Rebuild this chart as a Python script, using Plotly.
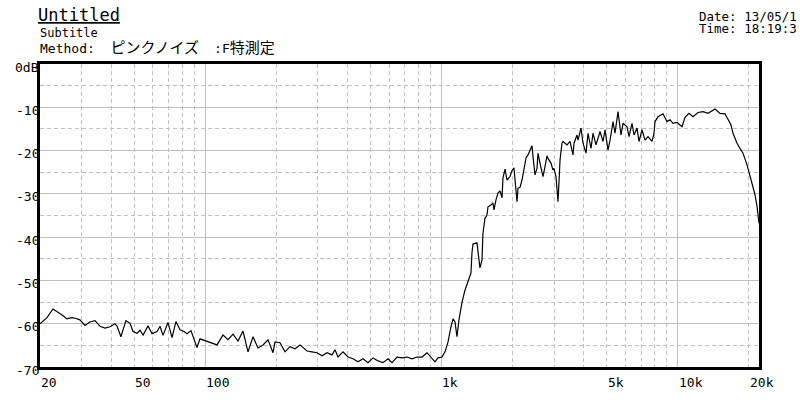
import math
import plotly.graph_objects as go

# ---------------- data ----------------
freq_hz = [
    20.0, 20.79, 21.41, 22.7, 23.6, 24.8, 26.0, 27.3, 28.41, 29.5, 31.0, 32.5, 34.2, 35.9,
    37.7, 39.6, 41.5, 42.4, 44.0, 46.2, 48.1, 49.5, 51.5, 53.0, 54.6, 57.3, 59.6, 62.55,
    64.4, 66.3, 69.6, 72.4, 75.2, 78.3, 81.4, 83.8, 87.1, 89.7, 92.3, 95.1,
    106.9, 112.2, 119.0, 124.9, 131.2, 137.7, 144.6, 151.8, 159.4, 167.3, 175.7, 184.5,
    193.6, 197.5, 207.4, 217.7, 228.6, 240.0, 252.0, 269.7, 283.2, 297.3, 312.2, 327.8,
    344.1, 354.3, 364.8, 383.1, 402.2, 422.3, 443.4, 465.6, 488.9, 513.2, 538.9, 565.7,
    594.0, 617.6, 648.5, 680.8, 714.8, 750.6, 788.0, 827.4, 868.6, 912.0, 939.0, 966.7,
    1005, 1035, 1066, 1097, 1119, 1141, 1163, 1186, 1222, 1258, 1283, 1308, 1333, 1346,
    1359, 1413, 1427, 1455, 1484, 1498, 1528, 1558, 1573, 1620, 1652, 1668, 1701, 1735,
    1769, 1804, 1821, 1857, 1894, 1950, 1989, 2027, 2048, 2088, 2108, 2150, 2192, 2235,
    2279, 2324, 2393, 2416, 2440, 2488, 2537, 2561, 2612, 2663, 2689, 2742, 2796, 2823,
    2907, 2964, 2993, 3052, 3082, 3112, 3142, 3174, 3236, 3268, 3398, 3499, 3603, 3638,
    3746, 3783, 3895, 3972, 4089, 4170, 4294, 4378, 4508, 4597, 4688, 4827, 4921, 5067,
    5168, 5321, 5425, 5585, 5751, 5865, 6097, 6218, 6402, 6527, 6721, 6854, 7057, 7266,
    7482, 7779, 7933, 8010, 8248, 8659, 9003, 9270, 9546, 9925, 10421, 10730, 11156,
    11599, 12177, 12787, 13426, 14374, 15093, 15845, 16312, 16796, 17128, 17809, 18337,
    18880, 19634, 20214, 20814, 21226, 21647, 21857, 22070,
]
level_db = [
    -60.0, -59.2, -58.6, -56.6, -57.2, -58.0, -58.9, -58.6, -58.8, -59.1, -60.4, -59.6, -59.3, -60.6,
    -61.0, -60.7, -60.0, -60.6, -63.0, -59.3, -59.9, -61.8, -62.2, -61.5, -62.6, -60.5, -62.3, -61.8,
    -60.6, -62.7, -59.7, -63.2, -59.5, -61.4, -61.8, -62.3, -61.6, -63.5, -65.5, -63.5,
    -64.4, -64.9, -62.6, -63.7, -62.4, -64.0, -61.7, -66.5, -63.0, -65.6, -64.9, -63.7,
    -66.7, -64.2, -64.4, -66.5, -65.3, -65.8, -64.9, -66.3, -66.5, -66.7, -67.4, -66.7,
    -67.2, -66.0, -67.7, -66.5, -67.7, -68.1, -68.8, -68.1, -69.0, -67.9, -68.6, -69.0,
    -68.1, -69.0, -67.7, -67.9, -67.7, -68.1, -67.7, -67.7, -66.7, -67.9, -68.8, -67.9,
    -67.7, -66.5, -64.2, -60.7, -58.9, -59.6, -63.0, -59.1, -55.0, -52.2, -51.0, -49.9, -48.3, -43.6,
    -41.6, -41.3, -43.3, -47.1, -45.3, -39.1, -35.6, -34.9, -33.0, -32.6, -32.1, -33.7, -31.4, -29.8,
    -29.3, -30.9, -26.3, -24.3, -26.8, -26.0, -24.6, -24.0, -26.8, -31.8, -28.7, -28.5, -26.8, -24.5,
    -21.7, -21.0, -19.1, -18.9, -21.4, -25.6, -24.1, -20.6, -22.9, -25.2, -26.0, -23.7, -21.2, -21.8,
    -22.9, -24.5, -24.1, -26.0, -30.6, -31.8, -27.5, -22.2, -18.3, -17.9, -18.7, -17.9, -21.0, -18.3,
    -16.4, -17.6, -14.8, -18.3, -20.6, -16.0, -19.5, -16.0, -18.7, -16.8, -15.6, -17.9, -15.2, -19.9,
    -17.6, -13.3, -16.0, -11.0, -16.4, -13.7, -14.5, -16.8, -13.7, -16.4, -14.8, -17.9, -15.2, -17.6,
    -16.8, -17.9, -16.0, -13.3, -12.2, -11.5, -13.3, -12.9, -13.7, -13.5, -14.5, -12.3, -11.4,
    -12.2, -11.2, -11.0, -11.4, -10.4, -11.4, -11.5, -12.9, -14.1, -16.0, -18.3, -19.5,
    -20.6, -23.3, -26.0, -28.3, -30.2, -32.9, -34.9, -36.8,
]

x_tick_vals = [20, 50, 100, 1000, 5000, 10000, 20000]
x_tick_text = ["20", "50", "100", "1k", "5k", "10k", "20k"]
x_major_grid = [100, 1000, 10000]
x_minor_grid = [30, 40, 50, 60, 70, 80, 90,
                200, 300, 400, 500, 600, 700, 800, 900,
                2000, 3000, 4000, 5000, 6000, 7000, 8000, 9000, 20000]
y_tick_vals = [0, -10, -20, -30, -40, -50, -60, -70]
y_tick_text = ["0dB", "-10", "-20", "-30", "-40", "-50", "-60", "-70"]
y_minor_grid = [-5, -15, -25, -35, -45, -55, -65]

title_text = "Untitled"
subtitle_text = "Subtitle"
method_label = "Method:"
method_kana = "ピンクノイズ"
method_suffix_a = ":F"
method_suffix_b = "特測定"
date_text = "Date: 13/05/1"
time_text = "Time: 18:19:3"

FONT = "DejaVu Sans Mono, Liberation Mono, Noto Sans CJK JP, monospace"
GRID = "#c0c0c0"

fig = go.Figure()
fig.add_trace(go.Scatter(x=freq_hz, y=level_db, mode="lines",
                         line=dict(color="black", width=1.2), hoverinfo="skip"))

fig.update_layout(
    width=800, height=400,
    margin=dict(l=40, r=41, t=64, b=33),
    paper_bgcolor="white", plot_bgcolor="white",
    showlegend=False,
    font=dict(family=FONT, size=13, color="black"),
)

fig.update_xaxes(
    type="log", range=[math.log10(20), 4.3437],
    tickmode="array", tickvals=x_major_grid, showticklabels=False, ticks="",
    showgrid=True, gridcolor=GRID, gridwidth=1,
    minor=dict(tickmode="array", tickvals=x_minor_grid, showgrid=True,
               gridcolor=GRID, gridwidth=1, griddash="4px,3px", ticks=""),
    showline=True, linecolor="black", linewidth=3, mirror=True, zeroline=False,
)
fig.update_yaxes(
    range=[-70, 0],
    tickmode="array", tickvals=y_tick_vals, showticklabels=False, ticks="",
    showgrid=True, gridcolor=GRID, gridwidth=1,
    minor=dict(tickmode="array", tickvals=y_minor_grid, showgrid=True,
               gridcolor=GRID, gridwidth=1, griddash="4px,3px", ticks=""),
    showline=True, linecolor="black", linewidth=3, mirror=True, zeroline=False,
)

ann = []
for v, t in zip(x_tick_vals, x_tick_text):
    ann.append(dict(x=math.log10(v), xref="x", y=0, yref="paper", text=t,
                    showarrow=False, xanchor="left", yanchor="top", yshift=-6,
                    xshift=-1, font=dict(size=13)))
for v, t in zip(y_tick_vals, y_tick_text):
    ann.append(dict(x=0, xref="paper", y=v, yref="y", text=t, showarrow=False,
                    xanchor="right", yanchor="middle", xshift=1, yshift=-3,
                    font=dict(size=13)))

ann.append(dict(x=0, xref="paper", y=1, yref="paper", text="<u>" + title_text + "</u>",
                showarrow=False, xanchor="left", yanchor="middle", xshift=-4, yshift=49,
                font=dict(size=17)))
ann.append(dict(x=0, xref="paper", y=1, yref="paper", text=subtitle_text,
                showarrow=False, xanchor="left", yanchor="middle", xshift=-2, yshift=31,
                font=dict(size=12)))
method_html = (method_label + "  <span style='font-size:15px'>" + method_kana + "　</span>"
               + method_suffix_a + "<span style='font-size:15px'>" + method_suffix_b + "</span>")
ann.append(dict(x=0, xref="paper", y=1, yref="paper", text=method_html,
                showarrow=False, xanchor="left", yanchor="middle", xshift=-2, yshift=16,
                font=dict(size=13)))
ann.append(dict(x=(700 - 40) / 719, xref="paper", y=1, yref="paper", text=date_text,
                showarrow=False, xanchor="left", yanchor="middle", xshift=-3, yshift=48,
                font=dict(size=12.5)))
ann.append(dict(x=(700 - 40) / 719, xref="paper", y=1, yref="paper", text=time_text,
                showarrow=False, xanchor="left", yanchor="middle", xshift=-3, yshift=36,
                font=dict(size=12.5)))
fig.update_layout(annotations=ann)

fig.write_html("out.html", config={"displayModeBar": False},
               post_script="document.body.style.margin='0';")
